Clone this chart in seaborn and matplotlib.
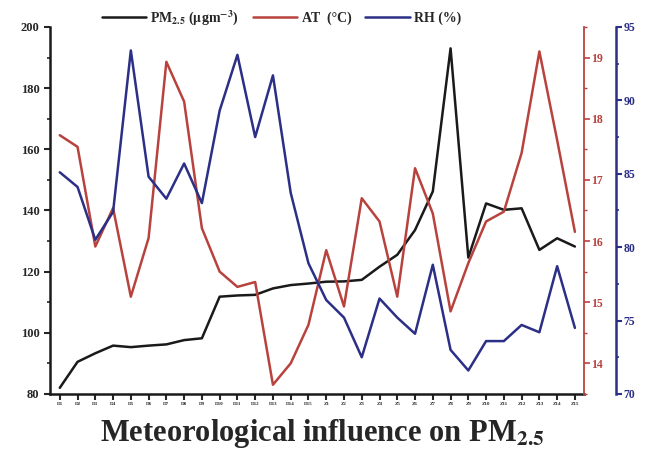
import numpy as np
import pandas as pd
import seaborn as sns
import matplotlib
matplotlib.use("Agg")
from matplotlib import pyplot as plt
from matplotlib.ticker import MultipleLocator

days = ['D%d' % i for i in range(1, 16)] + ['Z%d' % i for i in range(1, 16)]

pm25 = [82, 90.5, 93.3, 95.8, 95.3, 95.8, 96.2, 97.6, 98.2, 111.8, 112.2, 112.4,
        114.5, 115.6, 116.1, 116.7, 116.8, 117.3, 121.6, 125.5, 133.6, 146.2,
        193.0, 124.6, 142.3, 140.2, 140.7, 127.1, 130.9, 128.2]
at_c = [17.73, 17.54, 15.91, 16.54, 15.09, 16.05, 18.93, 18.28, 16.21, 15.5,
        15.25, 15.33, 13.65, 14.0, 14.63, 15.85, 14.93, 16.7, 16.32, 15.09,
        17.19, 16.45, 14.85, 15.64, 16.32, 16.48, 17.44, 19.1, 17.65, 16.15]
rh = [85.1, 84.1, 80.5, 82.4, 93.4, 84.8, 83.3, 85.7, 83.0, 89.3, 93.1, 87.5,
      91.7, 83.7, 78.9, 76.4, 75.2, 72.5, 76.5, 75.2, 74.1, 78.8, 73.0, 71.6,
      73.6, 73.6, 74.7, 74.2, 78.7, 74.5]

df = pd.DataFrame({'day': days, 'pm': pm25, 'at': at_c, 'rh': rh})

sns.set_style("ticks")
plt.rcParams['font.family'] = ['Liberation Serif', 'DejaVu Serif']
plt.rcParams['font.weight'] = 'bold'
plt.rcParams['mathtext.fontset'] = 'stix'

black = '#1a1a1a'
red = '#b8433e'
blue = '#2c2f86'

fig = plt.figure(figsize=(6.47, 4.57), dpi=100)
ax = fig.add_axes([0.0773, 0.138, 0.825, 0.803])
ax2 = ax.twinx()
ax3 = ax.twinx()
ax3.spines['right'].set_position(('outward', 23))

sns.lineplot(data=df, x='day', y='pm', ax=ax, color=black, lw=1.8, sort=False,
             label=r'PM$_{\mathbf{2.5}}$ ($\mathbf{\mu}$gm$^{\mathbf{-3}}$)', legend=False)
sns.lineplot(data=df, x='day', y='at', ax=ax2, color=red, lw=1.8, sort=False,
             label='AT  (°C)', legend=False)
sns.lineplot(data=df, x='day', y='rh', ax=ax3, color=blue, lw=1.8, sort=False,
             label='RH (%)', legend=False)

ax.set_ylim(80, 200)
ax.yaxis.set_major_locator(MultipleLocator(20))
ax.yaxis.set_minor_locator(MultipleLocator(10))
ax.set_xlim(-0.55, 29.5)
ax.set_xticks(range(len(days)))
ax.set_xticklabels(days, fontsize=3.6)
ax.tick_params(axis='y', labelsize=9, width=1.5, length=4)
ax.tick_params(axis='y', which='minor', width=1.2, length=2.5)
ax.tick_params(axis='x', width=1.5, length=4, pad=2)
ax.set_xlabel('')
ax.set_ylabel('')

ax2.set_ylim(13.5, 19.5)
ax2.yaxis.set_major_locator(MultipleLocator(1))
ax2.yaxis.set_minor_locator(MultipleLocator(0.5))
ax2.tick_params(axis='y', colors=red, labelsize=8.5, width=1.2, length=4, pad=1.5)
ax2.tick_params(axis='y', which='minor', colors=red, width=1, length=2.5)
ax2.set_ylabel('')

ax3.set_ylim(70, 95)
ax3.yaxis.set_major_locator(MultipleLocator(5))
ax3.yaxis.set_minor_locator(MultipleLocator(2.5))
ax3.tick_params(axis='y', colors=blue, labelsize=8.5, width=1.5, length=4, pad=1.5)
ax3.tick_params(axis='y', which='minor', colors=blue, width=1.2, length=2.5)
ax3.set_ylabel('')

for a in (ax, ax2, ax3):
    a.spines['top'].set_visible(False)
ax.spines['left'].set_linewidth(1.8)
ax.spines['bottom'].set_linewidth(1.8)
ax.spines['left'].set_color(black)
ax.spines['bottom'].set_color(black)
ax.spines['right'].set_visible(False)
ax2.spines['right'].set_color(red)
ax2.spines['right'].set_linewidth(1.3)
ax2.spines['left'].set_visible(False)
ax2.spines['bottom'].set_visible(False)
ax3.spines['right'].set_color(blue)
ax3.spines['right'].set_linewidth(1.8)
ax3.spines['left'].set_visible(False)
ax3.spines['bottom'].set_visible(False)

handles = []
labels = []
for a in (ax, ax2, ax3):
    h, l = a.get_legend_handles_labels()
    handles += h
    labels += l
fig.legend(handles, labels, loc='center', bbox_to_anchor=(0.435, 0.962), ncol=3,
           frameon=False, fontsize=10, handlelength=3.2, columnspacing=1.0,
           handletextpad=0.3)

fig.text(0.498, 0.036, r'Meteorological influence on PM$_{\mathbf{2.5}}$',
         ha='center', va='baseline', fontsize=22, fontweight='bold')

fig.savefig('out.png', dpi=100)
